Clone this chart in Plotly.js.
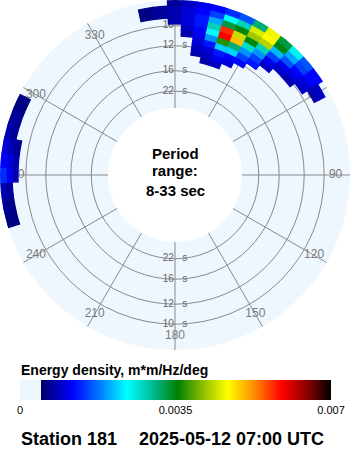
<!DOCTYPE html>
<html>
<head>
<meta charset="utf-8">
<script src="https://cdn.plot.ly/plotly-3.0.1.min.js"></script>
<style>html,body{margin:0;padding:0;background:#fff;}#chart{width:350px;height:450px;}</style>
</head>
<body>
<div id="chart"></div>
<script>
// ---- data ----
// direction bin centres (deg, coming-from, clockwise from north)
const directions = [255, 260, 265, 270, 275, 280, 285, 290, 295, 350, 355, 0, 5, 10, 15, 20, 25, 30, 35, 40, 45, 50, 55, 60];
// lower edges of frequency bins (Hz); every bin is binWidth wide
const freqEdges = [0.0715, 0.0765, 0.0815, 0.0865, 0.0915, 0.0965, 0.1015, 0.1065, 0.1115, 0.1165];
const binWidth = 0.005;
// energy density (m*m/Hz/deg), one row per direction, one column per frequency bin
const energy = [
  [0, 0, 0, 0, 0, 0, 0, 0, 0.0006, 0.0006],
  [0, 0, 0, 0, 0, 0, 0, 0, 0.0006, 0.0007],
  [0, 0, 0, 0, 0, 0, 0, 0, 0.0007, 0.0008],
  [0, 0, 0, 0, 0, 0, 0, 0.0008, 0.0011, 0.0014],
  [0, 0, 0, 0, 0, 0, 0, 0.0008, 0.0010, 0.0012],
  [0, 0, 0, 0, 0, 0, 0, 0.0007, 0.0008, 0.0010],
  [0, 0, 0, 0, 0, 0, 0, 0, 0.0007, 0.0008],
  [0, 0, 0, 0, 0, 0, 0, 0, 0.0007, 0.0007],
  [0, 0, 0, 0, 0, 0, 0, 0, 0.0006, 0.0006],
  [0, 0, 0, 0, 0, 0, 0, 0.0006, 0.0006, 0],
  [0, 0, 0, 0, 0, 0, 0, 0.0007, 0.0007, 0],
  [0, 0, 0, 0, 0, 0, 0.0008, 0.0008, 0.0008, 0.0007],
  [0, 0, 0, 0, 0.0008, 0.0009, 0.0010, 0.0010, 0.0010, 0.0009],
  [0, 0.0008, 0.0009, 0.0010, 0.0011, 0.0012, 0.0013, 0.0013, 0.0012, 0.0011],
  [0.0008, 0.0009, 0.0010, 0.0013, 0.0019, 0.0024, 0.0028, 0.0020, 0.0015, 0.0012],
  [0.0009, 0.0011, 0.0013, 0.0022, 0.0037, 0.0059, 0.0057, 0.0033, 0.0024, 0.0014],
  [0, 0.0010, 0.0012, 0.0022, 0.0031, 0.0050, 0.0044, 0.0035, 0.0028, 0.0016],
  [0, 0, 0.0012, 0.0015, 0.0019, 0.0027, 0.0035, 0.0042, 0.0045, 0.0031],
  [0, 0, 0, 0.0013, 0.0015, 0.0019, 0.0028, 0.0043, 0.0047, 0.0046],
  [0, 0, 0, 0, 0.0009, 0.0011, 0.0015, 0.0021, 0.0035, 0.0033],
  [0, 0, 0, 0, 0, 0.0009, 0.0011, 0.0016, 0.0020, 0.0025],
  [0, 0, 0, 0, 0, 0.0008, 0.0010, 0.0012, 0.0015, 0.0016],
  [0, 0, 0, 0, 0, 0, 0.0009, 0.0010, 0.0012, 0.0012],
  [0, 0, 0, 0, 0, 0, 0, 0.0008, 0.0009, 0]
];
const periodRings = [10, 12, 16, 22];          // s
const angleTicks = [0, 30, 60, 90, 120, 150, 180, 210, 240, 270, 300, 330];
const colorTicks = [0, 0.0035, 0.007];
const colorTickText = ['0', '0.0035', '0.007'];
const stationText = 'Station 181';
const dateText = '2025-05-12 07:00 UTC';

// ---- build traces ----
const rMin = 0.0315, rMax = 0.1215;
const cMax = 0.007;
const FONT = 'Liberation Sans, Arial, sans-serif';
const SCALE = [
  [0, '#eef6fe'], [0.0675, '#eef6fe'],
  [0.0675, '#00006a'], [0.17, '#0000ff'], [0.26, '#0080ff'],
  [0.344, '#00ffff'], [0.43, '#00b890'], [0.508, '#008000'],
  [0.59, '#90c000'], [0.668, '#ffff00'], [0.75, '#ff9000'],
  [0.842, '#ff0000'], [0.92, '#900000'], [1, '#000000']
];
function hex2rgb(h) { return [1, 3, 5].map(i => parseInt(h.substr(i, 2), 16)); }
function scaleColor(v) {
  const t = Math.max(0, Math.min(1, v / cMax));
  for (let i = 1; i < SCALE.length; i++) {
    const [t1, c1] = SCALE[i];
    const [t0, c0] = SCALE[i - 1];
    if (t <= t1 && t1 > t0) {
      const f = (t - t0) / (t1 - t0);
      const a = hex2rgb(c0), b = hex2rgb(c1);
      return 'rgb(' + a.map((x, j) => Math.round(x + f * (b[j] - x))).join(',') + ')';
    }
  }
  return SCALE[SCALE.length - 1][1];
}

const th = [], base = [], rr = [], col = [], lineCol = [];
directions.forEach((d, i) => {
  energy[i].forEach((e, k) => {
    if (e > 0) {
      th.push(d);
      base.push(freqEdges[k]);
      rr.push(Math.min(binWidth, rMax - freqEdges[k]));
      col.push(e);
      lineCol.push(scaleColor(e));
    }
  });
});

const ringTextTheta = [], ringTextR = [], ringText = [];
periodRings.forEach(p => {
  [0, 180].forEach(a => { ringTextTheta.push(a); ringTextR.push(1 / p); ringText.push(p + '   s'); });
});

const traces = [
  {
    type: 'scatterpolar', mode: 'text', subplot: 'polar',
    theta: angleTicks, r: angleTicks.map(() => 0.1095),
    text: angleTicks.map(String),
    textfont: {family: FONT, size: 12, color: '#7a7a7a'},
    hoverinfo: 'skip', showlegend: false
  },
  {
    type: 'scatterpolar', mode: 'text', subplot: 'polar',
    theta: ringTextTheta, r: ringTextR, text: ringText,
    textfont: {family: FONT, size: 10, color: '#666'},
    hoverinfo: 'skip', showlegend: false
  },
  {
    type: 'barpolar', subplot: 'polar2',
    theta: th, r: rr, base: base, width: th.map(() => 5),
    marker: {
      color: col, cmin: 0, cmax: cMax, colorscale: SCALE,
      line: {width: 1.2, color: lineCol},
      colorbar: {
        orientation: 'h', x: 0.5014, xanchor: 'center', y: 0.12, yanchor: 'middle',
        len: 311 / 350, lenmode: 'fraction', thickness: 20, thicknessmode: 'pixels',
        xpad: 0, ypad: 0, outlinewidth: 0, ticks: '',
        tickvals: colorTicks, ticktext: colorTickText,
        tickfont: {family: FONT, size: 11, color: '#000'},
        title: {text: ''}
      }
    },
    hoverinfo: 'skip', showlegend: false
  }
];

const polarCommon = {
  domain: {x: [0, 1], y: [100 / 450, 1]},
  hole: 67 / 175
};

const layout = {
  width: 350, height: 450,
  margin: {l: 0, r: 0, t: 0, b: 0},
  paper_bgcolor: '#ffffff',
  showlegend: false,
  polar: Object.assign({}, polarCommon, {
    bgcolor: '#eef6fe',
    radialaxis: {
      range: [rMin, rMax], tickmode: 'array', tickvals: periodRings.map(p => 1 / p),
      showticklabels: false, ticks: '', showline: false,
      gridcolor: '#8a8a8a', gridwidth: 1
    },
    angularaxis: {
      rotation: 90, direction: 'clockwise', tickmode: 'linear', tick0: 0, dtick: 30,
      showticklabels: false, ticks: '', showline: false,
      gridcolor: '#8a8a8a', gridwidth: 1
    }
  }),
  polar2: Object.assign({}, polarCommon, {
    bgcolor: 'rgba(0,0,0,0)',
    barmode: 'overlay',
    bargap: 0,
    radialaxis: {
      range: [rMin, rMax], showgrid: false, showticklabels: false, ticks: '', showline: false
    },
    angularaxis: {
      rotation: 90, direction: 'clockwise', showgrid: false,
      showticklabels: false, ticks: '', showline: false
    }
  }),
  annotations: [
    {text: '<b>Period</b>', x: 0.5, y: (450 - 153) / 450, xref: 'paper', yref: 'paper', showarrow: false,
     xanchor: 'center', yanchor: 'middle', font: {family: FONT, size: 15, color: '#000'}},
    {text: '<b>range:</b>', x: 0.5, y: (450 - 170) / 450, xref: 'paper', yref: 'paper', showarrow: false,
     xanchor: 'center', yanchor: 'middle', font: {family: FONT, size: 15, color: '#000'}},
    {text: '<b>8-33 sec</b>', x: 0.5, y: (450 - 190) / 450, xref: 'paper', yref: 'paper', showarrow: false,
     xanchor: 'center', yanchor: 'middle', font: {family: FONT, size: 15, color: '#000'}},
    {text: '<b>Energy density, m*m/Hz/deg</b>', x: 19 / 350, y: (450 - 370) / 450, xref: 'paper', yref: 'paper',
     showarrow: false, xanchor: 'left', yanchor: 'middle', font: {family: FONT, size: 14, color: '#000'}},
    {text: '<b>' + stationText + '</b>', x: 19 / 350, y: (450 - 439) / 450, xref: 'paper', yref: 'paper',
     showarrow: false, xanchor: 'left', yanchor: 'middle', font: {family: FONT, size: 18, color: '#000'}},
    {text: '<b>' + dateText + '</b>', x: 137 / 350, y: (450 - 439) / 450, xref: 'paper', yref: 'paper',
     showarrow: false, xanchor: 'left', yanchor: 'middle', font: {family: FONT, size: 18, color: '#000'}}
  ]
};

Plotly.newPlot('chart', traces, layout, {staticPlot: true, displayModeBar: false});
</script>
</body>
</html>
